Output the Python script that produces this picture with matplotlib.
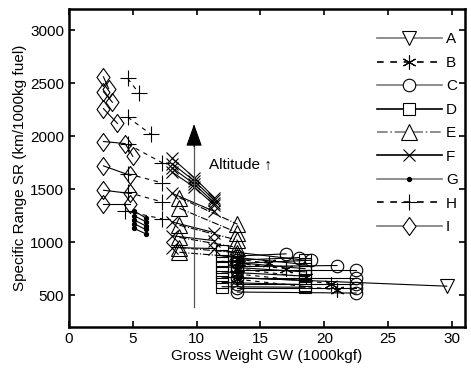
import numpy as np
import matplotlib
matplotlib.use('Agg')
from matplotlib import pyplot as plt
from matplotlib.path import Path

plt.rcParams['font.family'] = ['Liberation Sans', 'DejaVu Sans']
plt.rcParams['font.size'] = 11

# data: each series is a list of lines (x = gross weight 1000kgf, y = SR)
A_x = [[13.2, 29.6]]
A_y = [[665, 585]]

B_x = [[13.2, 15.7], [13.2, 17.0], [13.2, 18.6], [13.2, 20.5], [13.2, 21.0]]
B_y = [[840, 800], [800, 750], [750, 670], [700, 610], [650, 550]]

C_x = [[13.2, 17.0], [13.2, 18.0], [13.2, 19.0], [13.2, 21.0], [13.2, 22.5],
       [13.2, 22.5], [13.2, 22.5], [13.2, 22.5], [13.2, 22.5]]
C_y = [[870, 890], [830, 855], [800, 830], [770, 780], [740, 740],
       [660, 660], [610, 610], [565, 565], [530, 520]]

D_x = [[12.0, 18.5]] * 8
D_y = [[920, 830], [870, 790], [820, 750], [770, 720],
       [720, 680], [670, 640], [620, 600], [580, 575]]

E_x = [[8.65, 13.2]] * 6
E_y = [[1420, 1170], [1320, 1090], [1160, 1020], [1045, 950], [950, 900], [905, 860]]

F_x = [[8.1, 9.8, 11.4], [8.1, 9.8, 11.4], [8.1, 9.8, 11.4], [8.1, 9.8, 11.4],
       [8.1, 11.4], [8.1, 11.4], [8.1, 11.4], [8.1, 11.4]]
F_y = [[1790, 1610, 1420], [1740, 1580, 1395], [1700, 1550, 1370], [1660, 1520, 1350],
       [1460, 1290], [1190, 1090], [1060, 1015], [950, 940]]

G_x = [[5.1, 6.0]] * 5
G_y = [[1295, 1230], [1250, 1195], [1210, 1155], [1175, 1120], [1130, 1080]]

H_x = [[4.6, 5.45], [4.6, 6.4], [4.6, 7.3], [4.6, 7.3], [4.6, 7.3], [4.4, 7.3]]
H_y = [[2545, 2410], [2180, 2020], [1925, 1750], [1645, 1560], [1470, 1380], [1295, 1220]]

I_x = [[2.7, 3.1], [2.7, 3.4], [2.7, 3.8], [2.7, 4.4, 5.0], [2.7, 4.8], [2.7, 4.8], [2.7, 4.8]]
I_y = [[2560, 2450], [2420, 2320], [2260, 2120], [1950, 1930, 1810],
       [1720, 1630], [1490, 1460], [1360, 1360]]

labels = ['A', 'B', 'C', 'D', 'E', 'F', 'G', 'H', 'I']
all_x = [A_x, B_x, C_x, D_x, E_x, F_x, G_x, H_x, I_x]
all_y = [A_y, B_y, C_y, D_y, E_y, F_y, G_y, H_y, I_y]

diamond = Path([(0, 1), (0.72, 0), (0, -1), (-0.72, 0), (0, 1)],
               [Path.MOVETO, Path.LINETO, Path.LINETO, Path.LINETO, Path.CLOSEPOLY])

gray = '#7a7a7a'
styles = [
    dict(marker='v', ms=10, ls='-', color=gray),
    dict(marker=(6, 2, 0), ms=10, ls=(0, (4, 4)), color='k'),
    dict(marker='o', ms=9, ls='-', color=gray),
    dict(marker='s', ms=8, ls='-', color='k'),
    dict(marker='^', ms=11, ls='-.', color=gray),
    dict(marker='x', ms=8, ls='-', color='k'),
    dict(marker='o', ms=3, ls='-', color=gray, mfc='k'),
    dict(marker='+', ms=11, ls=(0, (4, 4)), color='k'),
    dict(marker=diamond, ms=13, ls='-', color=gray),
]

fig = plt.figure(figsize=(4.71, 3.75), dpi=100)
ax = fig.add_axes([0.1465, 0.128, 0.84, 0.848])

handles = []
for xs, ys, st, lab in zip(all_x, all_y, styles, labels):
    mfc = st.get('mfc', 'none')
    for x, y in zip(xs, ys):
        ax.plot(x, y, ls=st['ls'], color='k', lw=0.8, marker=st['marker'],
                ms=st['ms'], mfc=mfc, mec='k', mew=0.8)
    h, = ax.plot([], [], ls=st['ls'], color=st['color'], lw=1.2, marker=st['marker'],
                 ms=st['ms'], mfc=mfc if mfc != 'none' else 'white', mec='k', mew=0.8, label=lab)
    handles.append(h)

# altitude arrow
ax.plot([9.8, 9.8], [387, 1950], color='#555555', lw=0.9)
ax.annotate('', xy=(9.8, 2115), xytext=(9.8, 1900),
            arrowprops=dict(arrowstyle='-|>,head_length=1.4,head_width=0.5',
                            mutation_scale=10, color='k', lw=0.8, shrinkA=0, shrinkB=0))
ax.text(11.0, 1738, 'Altitude \u2191', va='center', ha='left', fontsize=11)

ax.set_xlim(0, 31)
ax.set_ylim(200, 3200)
ax.set_xticks([0, 5, 10, 15, 20, 25, 30])
ax.set_yticks([500, 1000, 1500, 2000, 2500, 3000])
ax.tick_params(direction='in', top=True, right=True, length=4, width=1.2, labelsize=11)
for s in ax.spines.values():
    s.set_linewidth(1.8)
ax.set_xlabel('Gross Weight GW (1000kgf)', fontsize=11, labelpad=2)
ax.set_ylabel('Specific Range SR (km/1000kg fuel)', fontsize=11, labelpad=2)

ax.legend(handles=handles, loc='upper right', bbox_to_anchor=(1.006, 0.955), frameon=False,
          handlelength=4.2, labelspacing=0.62, handletextpad=0.3, borderaxespad=0.2)

fig.savefig('out.png', dpi=100)
